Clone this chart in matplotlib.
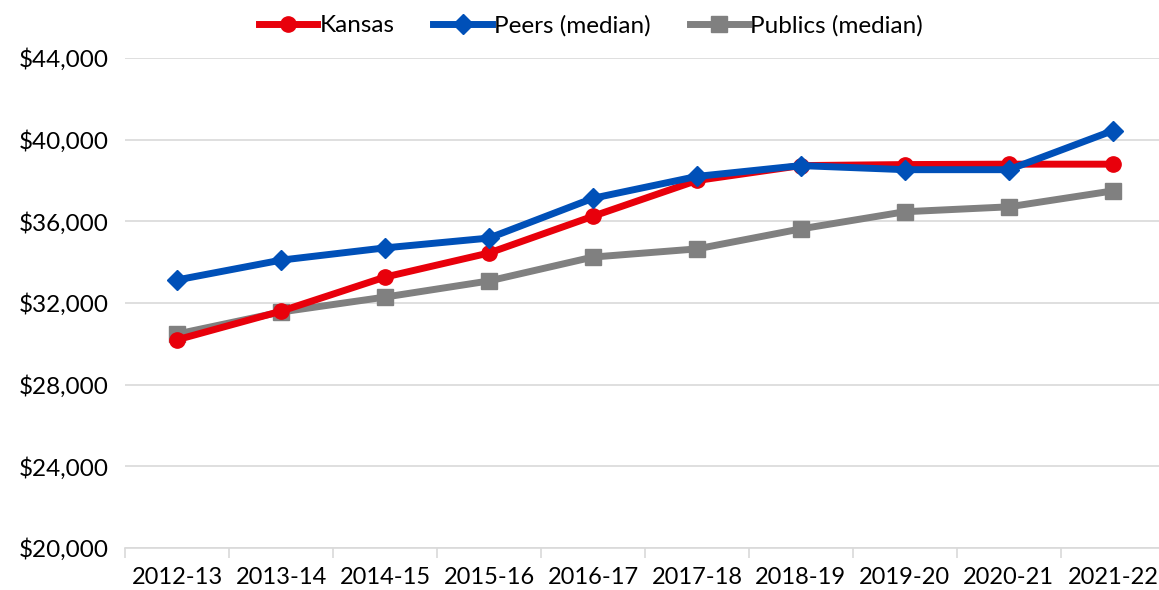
import numpy as np
import matplotlib
matplotlib.use("Agg")
import matplotlib.pyplot as plt
from matplotlib.ticker import FuncFormatter, FixedLocator

plt.rcParams['font.family'] = ['Lato', 'DejaVu Sans']

years = ['2012-13', '2013-14', '2014-15', '2015-16', '2016-17',
         '2017-18', '2018-19', '2019-20', '2020-21', '2021-22']
kansas = [30200, 31600, 33270, 34450, 36250, 38000, 38730, 38780, 38800, 38800]
peers = [33130, 34100, 34700, 35180, 37130, 38200, 38730, 38530, 38530, 40440]
publics = [30480, 31560, 32290, 33080, 34250, 34650, 35630, 36470, 36710, 37490]

fig = plt.figure(figsize=(11.59, 5.9), dpi=100)
ax = fig.add_axes([0.108, 0.0712, 0.897, 0.8305])

x = np.arange(len(years))
ax.plot(x, kansas, color='#E8000B', lw=5, marker='o', ms=11, label='Kansas', zorder=3)
ax.plot(x, peers, color='#0050B8', lw=5, marker='D', ms=10, label='Peers (median)', zorder=4)
ax.plot(x, publics, color='#808080', lw=5, marker='s', ms=11, label='Publics (median)', zorder=2)

ax.set_xlim(-0.5, 9.5)
ax.set_ylim(20000, 44000)
ax.set_yticks(np.arange(20000, 44001, 4000))
ax.yaxis.set_major_formatter(FuncFormatter(lambda v, p: '${:,.0f}'.format(v)))
ax.set_xticks(x)
ax.set_xticklabels(years)
ax.xaxis.set_minor_locator(FixedLocator(np.arange(-0.5, 9.6, 1)))

ax.grid(axis='y', color='#D9D9D9', lw=1.2)
ax.set_axisbelow(True)
for s in ['top', 'right', 'left']:
    ax.spines[s].set_visible(False)
ax.spines['bottom'].set_color('#D9D9D9')
ax.spines['bottom'].set_linewidth(1.2)

ax.tick_params(axis='y', length=0, labelsize=17.5, pad=12, colors='#000000')
ax.tick_params(axis='x', which='major', length=0, labelsize=17, pad=14)
ax.tick_params(axis='x', which='minor', length=7, width=1.2, color='#D9D9D9')

ax.legend(loc='lower center', bbox_to_anchor=(0.448, 1.0), ncol=3, frameon=False,
          fontsize=17.5, handlelength=2.4, handletextpad=0.1, columnspacing=1.6)

fig.savefig('out.png', dpi=100)
